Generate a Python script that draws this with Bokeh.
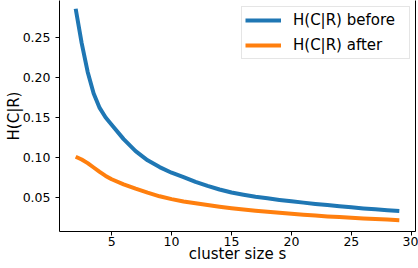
from bokeh.plotting import figure
from bokeh.models import Range1d, LinearAxis, FixedTicker, Legend, LegendItem
from bokeh.embed import file_html
from bokeh.resources import INLINE

# ---- data ----
cluster_size = [2, 2.5, 3, 3.5, 4, 4.5, 5, 6, 7, 8, 9, 10, 11, 12, 13, 14, 15, 16,
                17, 18, 19, 20, 21, 22, 23, 24, 25, 26, 27, 28, 29]
h_before = [0.286, 0.243, 0.207, 0.180, 0.162, 0.150, 0.141, 0.123, 0.108, 0.0965,
            0.088, 0.081, 0.0755, 0.0695, 0.0645, 0.0600, 0.0562, 0.0535, 0.0510, 0.0490,
            0.0470, 0.0453, 0.0436, 0.0420, 0.0405, 0.0390, 0.0377, 0.0364, 0.0352,
            0.0341, 0.0330]
h_after = [0.101, 0.0975, 0.0930, 0.0875, 0.0820, 0.0770, 0.0728, 0.0665, 0.0610, 0.0560,
           0.0515, 0.0480, 0.0450, 0.0428, 0.0406, 0.0385, 0.0366, 0.0350, 0.0335, 0.0322,
           0.0309, 0.0296, 0.0285, 0.0274, 0.0264, 0.0255, 0.0247, 0.0239, 0.0231,
           0.0224, 0.0217]
series_labels = ["H(C|R) before", "H(C|R) after"]
series_colors = ["#1f77b4", "#ff7f0e"]
x_ticks = [5, 10, 15, 20, 25, 30]
y_ticks = [0.05, 0.10, 0.15, 0.20, 0.25]
y_tick_labels = ["0.05", "0.10", "0.15", "0.20", "0.25"]
x_label = "cluster size s"
y_label = "H(C|R)"

FONT = "DejaVu Sans"

p = figure(width=418, height=268, output_backend="svg", toolbar_location=None,
           x_range=Range1d(0.65, 30.35), y_range=Range1d(0.0075, 0.2963),
           min_border_left=59, min_border_right=3, min_border_top=0,
           min_border_bottom=37, outline_line_color=None,
           x_axis_label=x_label, y_axis_label=y_label)
p.grid.visible = False

r1 = p.line(cluster_size, h_before, line_color=series_colors[0], line_width=4,
            line_join="round")
r2 = p.line(cluster_size, h_after, line_color=series_colors[1], line_width=4,
            line_join="round")

for ax in (p.xaxis[0], p.yaxis[0]):
    ax.axis_line_color = "black"
    ax.major_tick_line_color = "black"
    ax.minor_tick_line_color = None
    ax.major_tick_out = 4
    ax.major_tick_in = 0
    ax.major_label_text_font = FONT
    ax.major_label_text_font_size = "12.5px"
    ax.major_label_text_color = "black"
    ax.axis_label_text_font = FONT
    ax.axis_label_text_font_size = "15px"
    ax.axis_label_text_font_style = "normal"
    ax.axis_label_text_color = "black"

p.xaxis[0].major_label_standoff = 1
p.xaxis[0].axis_label_standoff = -4
p.yaxis[0].major_label_standoff = 5
p.yaxis[0].axis_label_standoff = -3

p.xaxis[0].ticker = FixedTicker(ticks=x_ticks)
p.yaxis[0].ticker = FixedTicker(ticks=y_ticks)
p.yaxis[0].major_label_overrides = {t: s for t, s in zip(y_ticks, y_tick_labels)}

right = LinearAxis(ticker=FixedTicker(ticks=[]), axis_line_color="black",
                   major_tick_out=0, major_tick_in=0, minor_tick_out=0, minor_tick_in=0,
                   major_label_standoff=0, major_label_text_font_size="0px")
p.add_layout(right, "right")

legend = Legend(items=[LegendItem(label=series_labels[0], renderers=[r1]),
                       LegendItem(label=series_labels[1], renderers=[r2])],
                location=(182, 172), label_text_font=FONT, label_text_font_size="15px",
                label_text_color="black", glyph_width=36, glyph_height=20,
                label_height=20, label_standoff=12, spacing=5, padding=3, margin=0,
                label_width=113, border_line_color="#cccccc",
                background_fill_color="white", background_fill_alpha=0.8)
p.add_layout(legend)

open("out.html", "w").write(file_html(p, INLINE))
